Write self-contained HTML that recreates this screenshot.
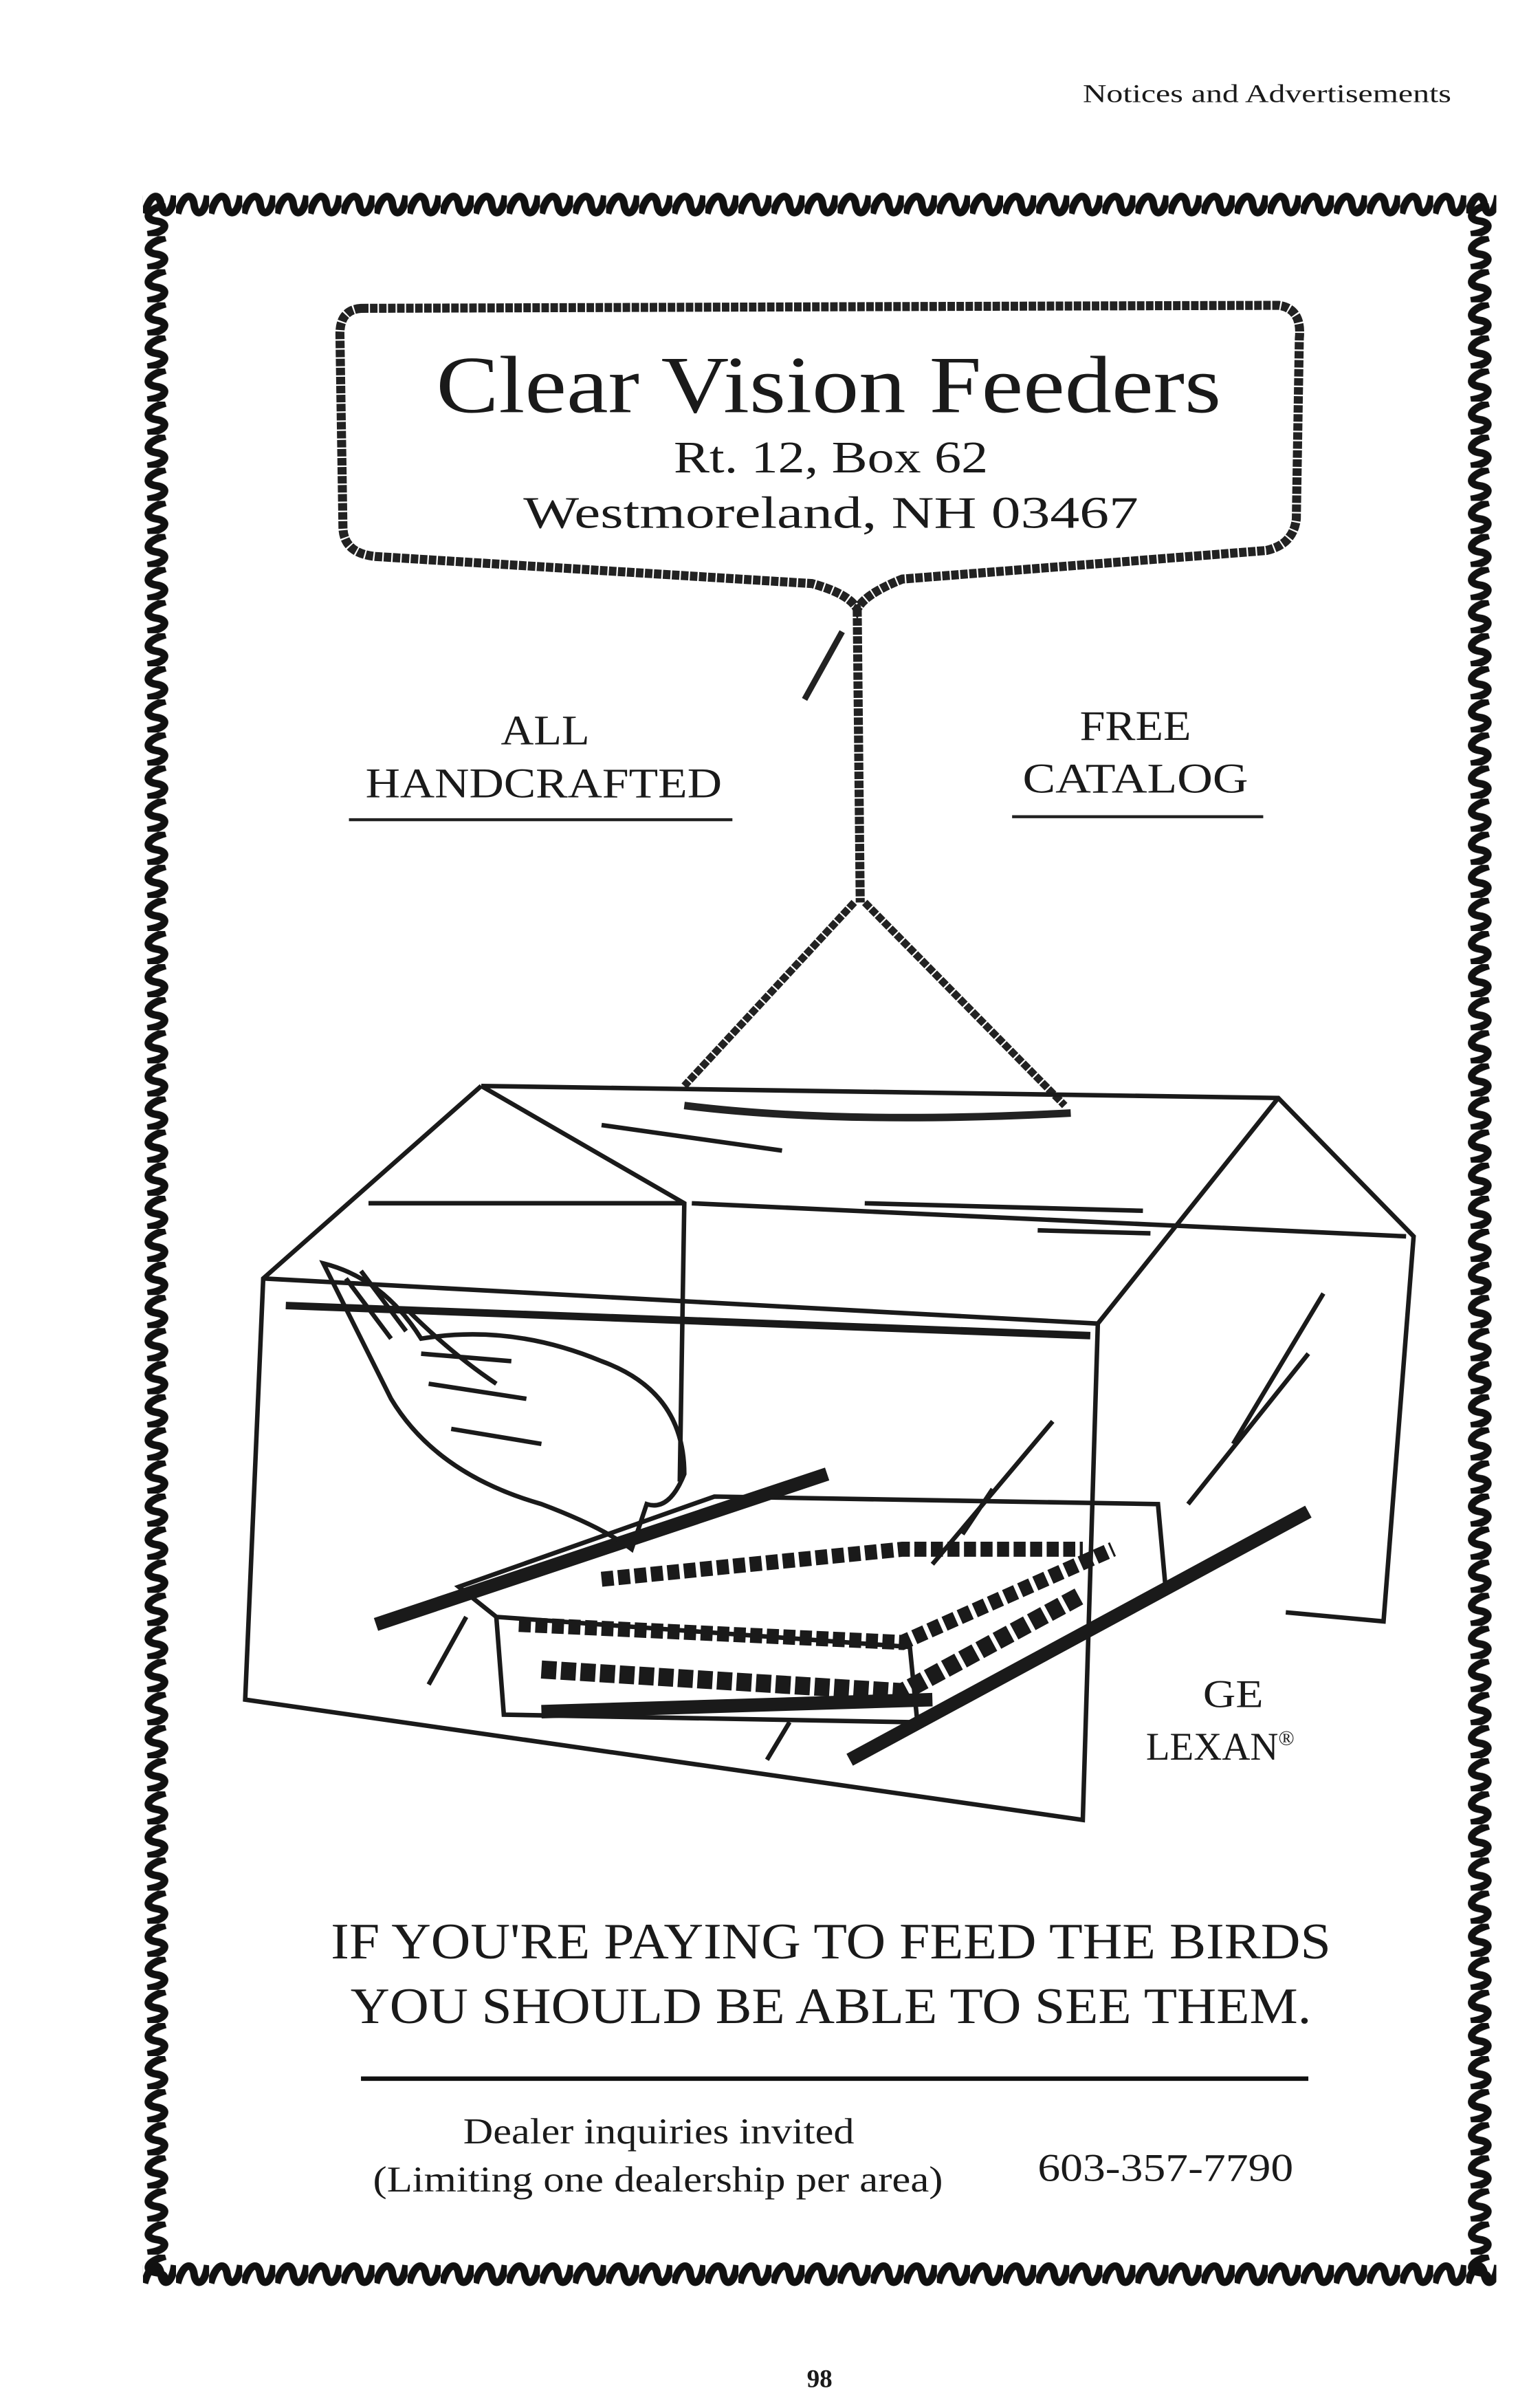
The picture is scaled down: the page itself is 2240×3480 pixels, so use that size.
<!DOCTYPE html>
<html><head><meta charset="utf-8"><style>
html,body{margin:0;padding:0;background:#fff;}
svg{display:block;}
text{font-family:"Liberation Serif",serif;fill:#1a1a1a;}
</style></head><body>
<svg width="2240" height="3480" viewBox="0 0 1024 1591" xmlns="http://www.w3.org/2000/svg">
<defs>
<pattern id="pt" x="95" y="124" width="22" height="24" patternUnits="userSpaceOnUse">
<path d="M1,18 C5,4 11,4 12,12 C13,20 19,20 21,6" fill="none" stroke="#111" stroke-width="5"/>
</pattern>
<pattern id="pb" x="95" y="1500" width="22" height="24" patternUnits="userSpaceOnUse">
<path d="M1,18 C5,4 11,4 12,12 C13,20 19,20 21,6" fill="none" stroke="#111" stroke-width="5"/>
</pattern>
<pattern id="pl" x="92" y="135" width="24" height="22" patternUnits="userSpaceOnUse">
<path d="M18,1 C4,5 4,11 12,12 C20,13 20,19 6,21" fill="none" stroke="#111" stroke-width="5"/>
</pattern>
<pattern id="pr" x="972" y="135" width="24" height="22" patternUnits="userSpaceOnUse">
<path d="M18,1 C4,5 4,11 12,12 C20,13 20,19 6,21" fill="none" stroke="#111" stroke-width="5"/>
</pattern>
</defs>
<rect width="1024" height="1591" fill="#fff"/>
<text x="720" y="68" font-size="17" textLength="245" lengthAdjust="spacingAndGlyphs">Notices and Advertisements</text>
<!-- border -->
<rect x="95" y="124" width="900" height="24" fill="url(#pt)"/>
<rect x="95" y="1500" width="900" height="24" fill="url(#pb)"/>
<rect x="92" y="135" width="24" height="1380" fill="url(#pl)"/>
<rect x="972" y="135" width="24" height="1380" fill="url(#pr)"/>
<!-- rope sign -->
<path d="M240,205 L850,203 Q866,205 864,225 L862,345 Q860,362 842,366 L600,385 Q575,395 570,405 Q565,395 540,388 L250,370 Q228,368 228,350 L226,222 Q226,206 240,205 Z" fill="none" stroke="#222" stroke-width="6" stroke-dasharray="5 1"/>
<text x="290" y="274" font-size="54" textLength="522" lengthAdjust="spacingAndGlyphs">Clear Vision Feeders</text>
<text x="448" y="314" font-size="30" textLength="209" lengthAdjust="spacingAndGlyphs">Rt. 12, Box 62</text>
<text x="348" y="351" font-size="30" textLength="409" lengthAdjust="spacingAndGlyphs">Westmoreland, NH  03467</text>
<!-- rope -->
<path d="M570,405 L572,600" stroke="#222" stroke-width="6" stroke-dasharray="5 1" fill="none"/>
<path d="M560,420 L535,465" stroke="#222" stroke-width="4"/>
<path d="M568,600 L455,722 M575,600 L708,735" stroke="#222" stroke-width="5" stroke-dasharray="5 1" fill="none"/>
<path d="M455,735 Q560,748 712,740" stroke="#222" stroke-width="5" fill="none"/>
<!-- side texts -->
<text x="333" y="495" font-size="28" textLength="59" lengthAdjust="spacingAndGlyphs">ALL</text>
<text x="243" y="530" font-size="28" textLength="237" lengthAdjust="spacingAndGlyphs">HANDCRAFTED</text>
<line x1="232" y1="545" x2="487" y2="545" stroke="#222" stroke-width="2"/>
<text x="718" y="492" font-size="28" textLength="74" lengthAdjust="spacingAndGlyphs">FREE</text>
<text x="680" y="527" font-size="28" textLength="150" lengthAdjust="spacingAndGlyphs">CATALOG</text>
<line x1="673" y1="543" x2="840" y2="543" stroke="#222" stroke-width="2"/>
<!-- feeder -->
<g fill="none" stroke="#1a1a1a" stroke-width="3">
<path d="M320,722 L850,730 L940,822 L920,1078 L855,1072"/>
<path d="M320,722 L175,850 L163,1130 L720,1210 L730,880 L850,730"/>
<path d="M175,850 L730,880"/>
<path d="M320,722 L455,800 L452,985"/>
<path d="M245,800 L455,800 M460,800 L935,822"/>
<path d="M190,868 L725,888" stroke-width="5"/>
<path d="M400,748 L520,765 M575,800 L760,805 M690,818 L765,820"/>
<path d="M880,860 L820,960 M870,900 L790,1000 M700,945 L620,1040 M660,990 L640,1020"/>
<path d="M285,1120 L310,1075 M510,1170 L525,1145"/>
<path d="M305,1055 L475,995 L770,1000 L775,1055 L610,1145 L605,1095 L330,1075 Z"/>
<path d="M330,1075 L335,1140 L605,1145"/>
<path d="M345,1080 L600,1092 L740,1030" stroke-width="10" stroke-dasharray="8 3"/>
<path d="M360,1110 L600,1125 L720,1060" stroke-width="12" stroke-dasharray="10 3"/>
<path d="M400,1050 L600,1030 L720,1030" stroke-width="10" stroke-dasharray="8 3"/>
<path d="M250,1080 L550,980" stroke-width="9"/>
<path d="M360,1138 L620,1130" stroke-width="9"/>
<path d="M565,1170 L870,1005" stroke-width="9"/>
<path d="M215,840 Q255,850 280,890 Q340,880 400,905 Q455,925 455,980 Q445,1005 430,1000 L420,1030 Q400,1015 360,1000 Q290,980 260,930 Q240,890 215,840 Z"/>
<path d="M280,900 L340,905 M285,920 L350,930 M300,950 L360,960 M270,870 Q300,900 330,920"/>
<path d="M230,850 L260,890 M240,845 L270,885"/>
</g>
<text x="800" y="1135" font-size="26" textLength="40" lengthAdjust="spacingAndGlyphs">GE</text>
<text x="762" y="1170" font-size="26">LEXAN<tspan font-size="14" dy="-10">®</tspan></text>
<text x="220" y="1302" font-size="34" textLength="665" lengthAdjust="spacingAndGlyphs">IF YOU'RE PAYING TO FEED THE BIRDS</text>
<text x="233" y="1345" font-size="34" textLength="639" lengthAdjust="spacingAndGlyphs">YOU SHOULD BE ABLE TO SEE THEM.</text>
<line x1="240" y1="1382" x2="870" y2="1382" stroke="#111" stroke-width="3"/>
<text x="308" y="1425" font-size="24" textLength="260" lengthAdjust="spacingAndGlyphs">Dealer inquiries invited</text>
<text x="248" y="1457" font-size="24" textLength="379" lengthAdjust="spacingAndGlyphs">(Limiting one dealership per area)</text>
<text x="690" y="1450" font-size="26" textLength="170" lengthAdjust="spacingAndGlyphs">603-357-7790</text>
<text x="545" y="1587" font-size="17" text-anchor="middle" font-weight="bold">98</text>
</svg>
</body></html>
